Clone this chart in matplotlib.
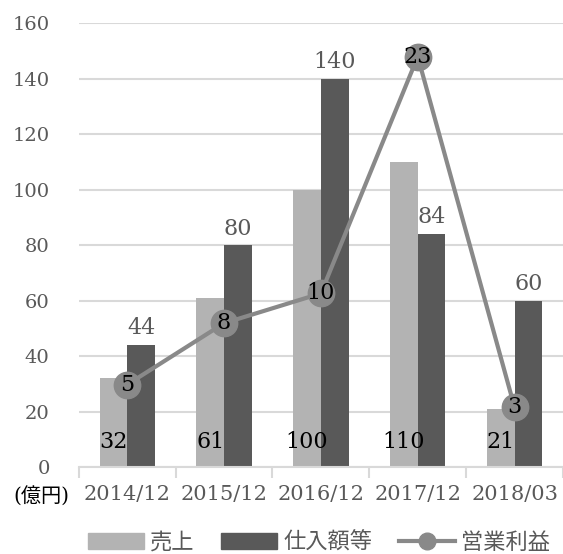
import numpy as np
import matplotlib
matplotlib.use('Agg')
import matplotlib.pyplot as plt
from matplotlib.patches import Patch
from matplotlib.lines import Line2D

plt.rcParams['font.family'] = ['DejaVu Serif', 'Noto Sans CJK JP']

periods = ['2014/12', '2015/12', '2016/12', '2017/12', '2018/03']
sales = [32, 61, 100, 110, 21]          # 売上
purchases = [44, 80, 140, 84, 60]       # 仕入額等
op_profit = [4.7, 8.2, 9.9, 23.4, 3.4]  # 営業利益 (右軸, 非表示)

c_light = '#b3b3b3'
c_dark = '#595959'
c_line = '#898989'
c_grid = '#d9d9d9'
c_text = '#595959'

fig = plt.figure(figsize=(5.63, 5.54), dpi=100)
ax = fig.add_axes([0.140, 0.157, 0.860, 0.801])

x = np.arange(len(periods))
w = 0.285
b1 = ax.bar(x - w / 2, sales, w, color=c_light, zorder=2)
b2 = ax.bar(x + w / 2, purchases, w, color=c_dark, zorder=2)

# 売上 labels sit inside the bar base
for xi, v in zip(x, sales):
    ax.text(xi - w / 2, 9, str(v), ha='center', va='center', fontsize=16,
            color='black', zorder=4)
ax.bar_label(b2, labels=[str(v) for v in purchases], padding=4,
             fontsize=16, color=c_text)

ax.set_ylim(0, 160)
ax.set_xlim(-0.5, len(periods) - 0.5)
ax.set_yticks(range(0, 161, 20))
ax.yaxis.grid(True, color=c_grid, linewidth=1.5, zorder=0)
ax.set_axisbelow(True)
for s in ['left', 'right', 'top']:
    ax.spines[s].set_visible(False)
ax.spines['bottom'].set_color(c_grid)
ax.spines['bottom'].set_linewidth(1.5)
ax.tick_params(axis='y', length=0, pad=21, labelsize=14, labelcolor=c_text)
ax.set_xticks(x)
ax.set_xticklabels(periods)
ax.tick_params(axis='x', which='major', length=0, pad=13, labelsize=15, labelcolor=c_text)
ax.set_xticks(np.arange(-0.5, len(periods), 1), minor=True)
ax.tick_params(axis='x', which='minor', length=8, width=1.5, color=c_grid)

ax2 = ax.twinx()
ax2.set_ylim(0, 25.3)
ax2.plot(x, op_profit, color=c_line, linewidth=3, marker='o', markersize=19, zorder=3)
for xi, v in zip(x, op_profit):
    ax2.text(xi, v, f'{v:.0f}', ha='center', va='center', fontsize=16, color='black')
ax2.axis('off')

fig.text(0.074, 1 - 497 / 554, '(億円)', ha='center', va='center', fontsize=14.5,
         color='black')

handles = [Patch(color=c_light), Patch(color=c_dark),
           Line2D([], [], color=c_line, linewidth=3, marker='o', markersize=12)]
fig.legend(handles, ['売上', '仕入額等', '営業利益'], loc='center',
           bbox_to_anchor=(0.567, 1 - 543 / 554), ncol=3, frameon=False,
           fontsize=16, handlelength=2.5, handletextpad=0.3, columnspacing=1.2,
           labelcolor=c_text)

fig.savefig('out.png', dpi=100)
